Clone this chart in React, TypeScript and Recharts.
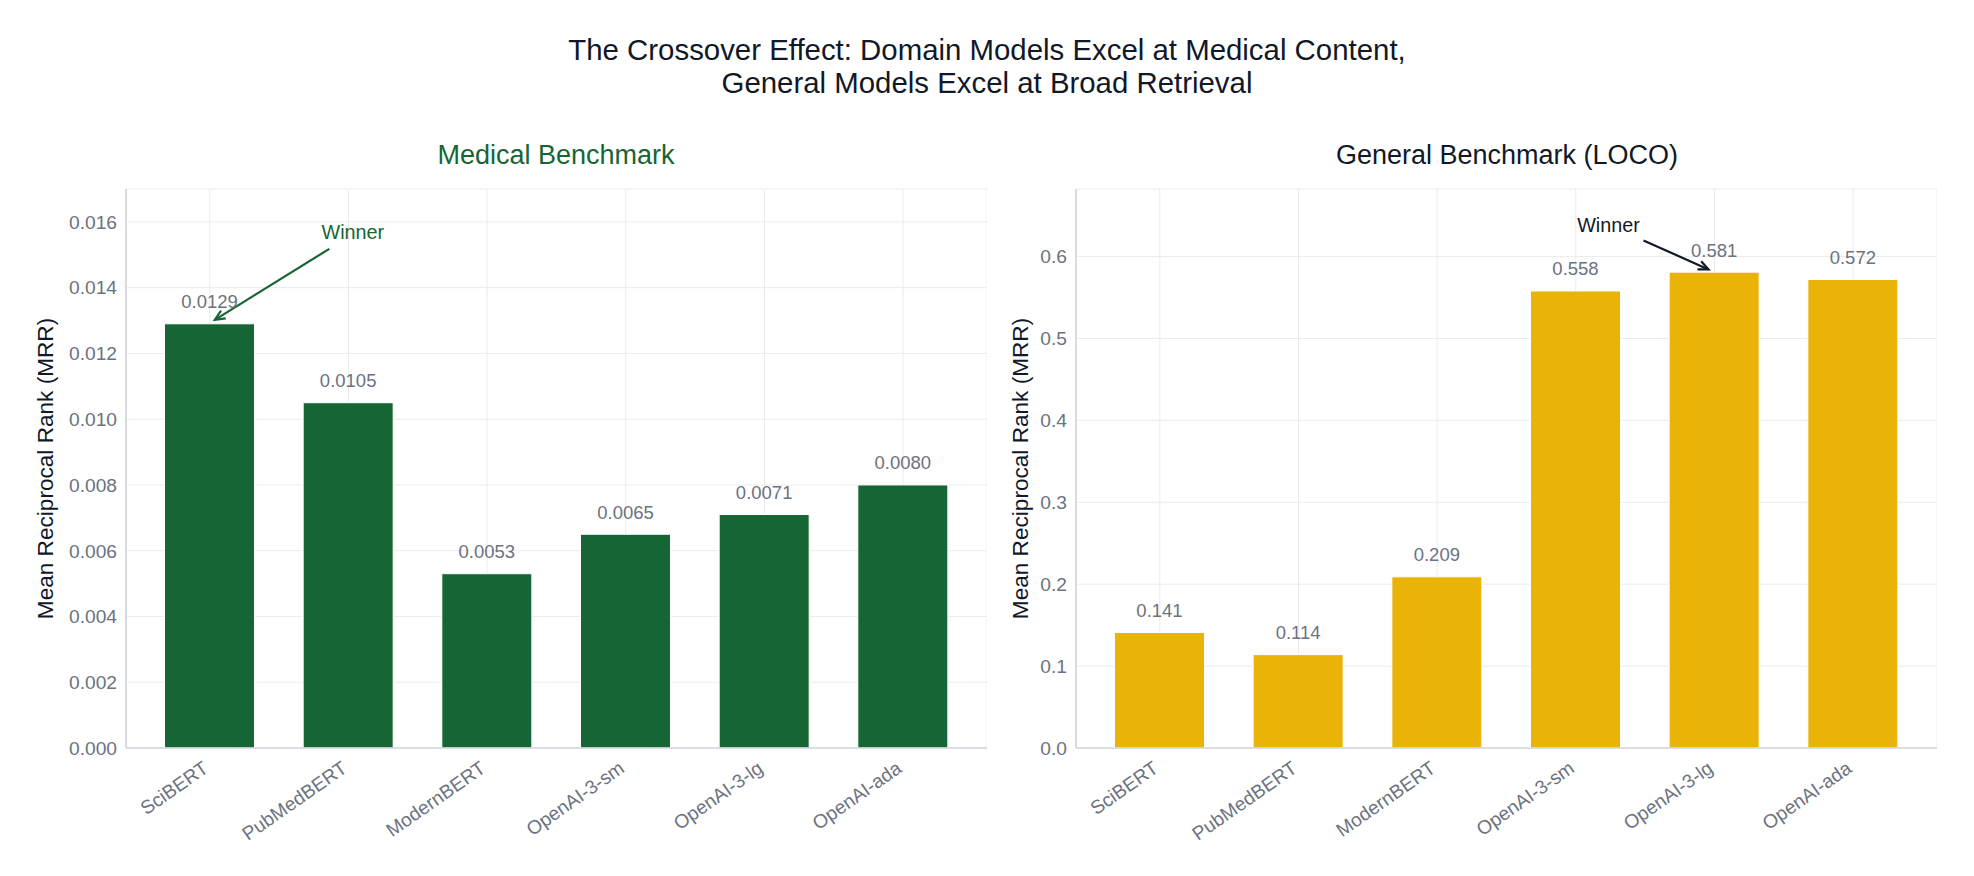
import React from 'react';
import {
  BarChart,
  Bar,
  XAxis,
  YAxis,
  CartesianGrid,
  LabelList,
  ReferenceDot,
} from 'recharts';

// Models compared in both benchmarks
const models = ['SciBERT', 'PubMedBERT', 'ModernBERT', 'OpenAI-3-sm', 'OpenAI-3-lg', 'OpenAI-ada'];

// Mean Reciprocal Rank per model
const medicalMrr = [0.0129, 0.0105, 0.0053, 0.0065, 0.0071, 0.008];
const locoMrr = [0.141, 0.114, 0.209, 0.558, 0.581, 0.572];

// Axis ticks
const medicalTicks = [0, 0.002, 0.004, 0.006, 0.008, 0.01, 0.012, 0.014, 0.016];
const locoTicks = [0, 0.1, 0.2, 0.3, 0.4, 0.5, 0.6];

const medicalDomain = [0, 0.017];
const locoDomain = [0, 0.6825];

const GREEN = '#166534';
const YELLOW = '#eab308';
const DARK = '#111827';
const GRAY = '#6b7280';
const AXIS = '#d1d5db';
const GRID = '#ebebeb';
const FONT = '"Liberation Sans", Arial, Helvetica, sans-serif';

const medicalData = models.map((model, i) => ({ model, mrr: medicalMrr[i] }));
const locoData = models.map((model, i) => ({ model, mrr: locoMrr[i] }));

const CHART_W = 987;
const CHART_H = 876;
const PLOT_TOP = 189;
const AXIS_H = 128;
const YAXIS_W = 126;

/**
 * Rotated category label, right edge anchored at the tick
 */
function XTick({ x, y, payload }: any) {
  const ax = x - 8;
  const ay = y + 12;
  return (
    <text
      x={ax}
      y={ay}
      textAnchor="end"
      dominantBaseline="hanging"
      transform={`rotate(-35, ${ax}, ${ay})`}
      fill={GRAY}
      fontSize={19.2}
    >
      {payload.value}
    </text>
  );
}

/**
 * Value label above each bar
 */
function valueLabel(digits: number) {
  return (props: any) => {
    const { x, y, width, value } = props;
    return (
      <text
        x={x + width / 2}
        y={y - 22}
        textAnchor="middle"
        dominantBaseline="central"
        fill={GRAY}
        fontSize={18.5}
      >
        {Number(value).toFixed(digits)}
      </text>
    );
  };
}

function yLabel(offsetX: number) {
  return (props: any) => {
    const vb = props.viewBox || {};
    const cx = (vb.x ?? 0) + offsetX;
    const cy = (vb.y ?? PLOT_TOP) + (vb.height ?? CHART_H - PLOT_TOP - AXIS_H) / 2;
    return (
      <text
        x={cx}
        y={cy}
        transform={`rotate(-90, ${cx}, ${cy})`}
        textAnchor="middle"
        dominantBaseline="central"
        fill={DARK}
        fontSize={22.6}
      >
        Mean Reciprocal Rank (MRR)
      </text>
    );
  };
}

/**
 * "Winner" annotation: text plus an arrow pointing at the bar top
 */
function winnerShape(color: string, text: [number, number], tail: [number, number], tip: [number, number]) {
  return (props: any) => {
    const { cx, cy } = props;
    const x1 = cx + tail[0];
    const y1 = cy + tail[1];
    const x2 = cx + tip[0];
    const y2 = cy + tip[1];
    const ang = Math.atan2(y2 - y1, x2 - x1);
    const len = 11;
    const spread = 0.42;
    const h1x = x2 - len * Math.cos(ang - spread);
    const h1y = y2 - len * Math.sin(ang - spread);
    const h2x = x2 - len * Math.cos(ang + spread);
    const h2y = y2 - len * Math.sin(ang + spread);
    return (
      <g>
        <line x1={x1} y1={y1} x2={x2} y2={y2} stroke={color} strokeWidth={2.2} />
        <polyline
          points={`${h1x},${h1y} ${x2},${y2} ${h2x},${h2y}`}
          fill="none"
          stroke={color}
          strokeWidth={2.2}
        />
        <text
          x={cx + text[0]}
          y={cy + text[1]}
          textAnchor="middle"
          dominantBaseline="central"
          fill={color}
          fontSize={19.8}
        >
          Winner
        </text>
      </g>
    );
  };
}

function Panel({
  data,
  color,
  ticks,
  domain,
  digits,
  tickDigits,
  yLabelX,
  winner,
  winnerColor,
  winnerOffsets,
}: any) {
  return (
    <BarChart
      width={CHART_W}
      height={CHART_H}
      data={data}
      margin={{ top: PLOT_TOP, right: 0, bottom: 0, left: 0 }}
    >
      <CartesianGrid stroke={GRID} strokeWidth={1} />
      <XAxis
        dataKey="model"
        interval={0}
        height={AXIS_H}
        padding={{ left: 14.5, right: 14.5 }}
        tickLine={false}
        tickSize={0}
        tickMargin={0}
        axisLine={{ stroke: AXIS, strokeWidth: 1.6 }}
        tick={<XTick />}
      />
      <YAxis
        width={YAXIS_W}
        domain={domain}
        ticks={ticks}
        allowDataOverflow
        tickLine={false}
        tickSize={0}
        tickMargin={9}
        axisLine={{ stroke: AXIS, strokeWidth: 1.6 }}
        tick={{ fill: GRAY, fontSize: 19.2 }}
        tickFormatter={(v: number) => v.toFixed(tickDigits)}
        label={{ content: yLabel(yLabelX) }}
      />
      <Bar dataKey="mrr" fill={color} barSize={90} stroke="#ffffff" strokeWidth={1} isAnimationActive={false}>
        <LabelList dataKey="mrr" content={valueLabel(digits)} />
      </Bar>
      <ReferenceDot
        x={winner.model}
        y={winner.mrr}
        r={0}
        ifOverflow="visible"
        shape={winnerShape(winnerColor, winnerOffsets.text, winnerOffsets.tail, winnerOffsets.tip)}
      />
    </BarChart>
  );
}

export default function App() {
  const medicalWinner = medicalData[0];
  const locoWinner = locoData[4];
  return (
    <div
      style={{
        position: 'absolute',
        left: 0,
        top: 0,
        width: 1974,
        height: 876,
        background: '#ffffff',
        fontFamily: FONT,
        overflow: 'hidden',
      }}
    >
      <div style={{ position: 'absolute', left: 0, top: 0 }}>
        <Panel
          data={medicalData}
          color={GREEN}
          ticks={medicalTicks}
          domain={medicalDomain}
          digits={4}
          tickDigits={3}
          yLabelX={45}
          winner={medicalWinner}
          winnerColor={GREEN}
          winnerOffsets={{ text: [143, -92], tail: [119.5, -75], tip: [5, -4] }}
        />
      </div>
      <div style={{ position: 'absolute', left: 950, top: 0 }}>
        <Panel
          data={locoData}
          color={YELLOW}
          ticks={locoTicks}
          domain={locoDomain}
          digits={3}
          tickDigits={1}
          yLabelX={70}
          winner={locoWinner}
          winnerColor={DARK}
          winnerOffsets={{ text: [-106, -47.4], tail: [-71, -31.7], tip: [-6, -2.7] }}
        />
      </div>
      <svg
        width={1974}
        height={876}
        style={{ position: 'absolute', left: 0, top: 0, pointerEvents: 'none' }}
      >
        <text x={987} y={49} textAnchor="middle" dominantBaseline="central" fill={DARK} fontSize={29.4}>
          The Crossover Effect: Domain Models Excel at Medical Content,
        </text>
        <text x={987} y={82} textAnchor="middle" dominantBaseline="central" fill={DARK} fontSize={29.4}>
          General Models Excel at Broad Retrieval
        </text>
        <text x={556} y={155} textAnchor="middle" dominantBaseline="central" fill={GREEN} fontSize={27}>
          Medical Benchmark
        </text>
        <text x={1507} y={155} textAnchor="middle" dominantBaseline="central" fill={DARK} fontSize={27}>
          General Benchmark (LOCO)
        </text>
      </svg>
    </div>
  );
}
